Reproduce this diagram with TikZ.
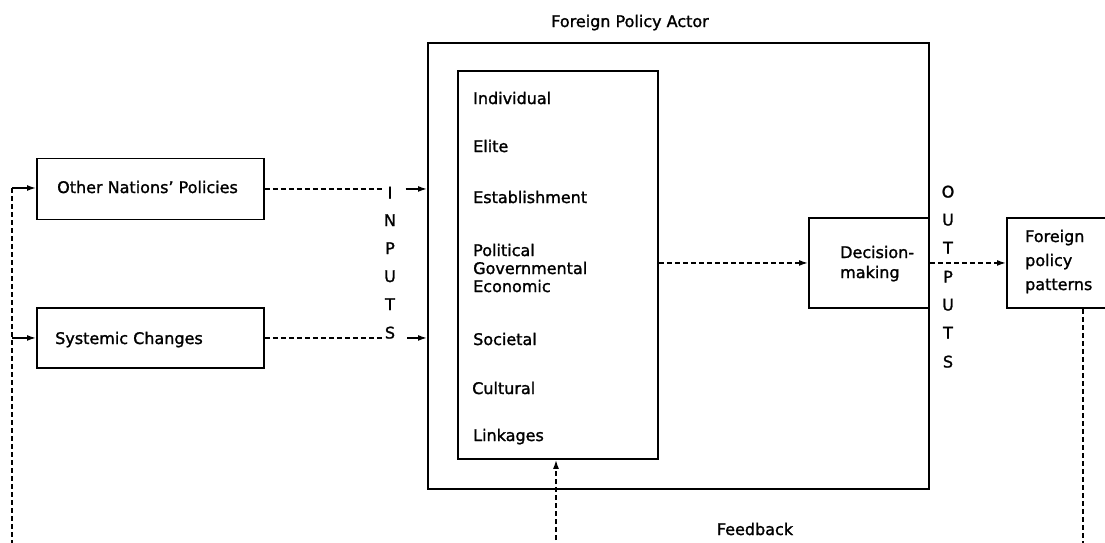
\documentclass[tikz,border=0pt]{standalone}
\usepackage{fontspec}
\setmainfont[FakeBold=1.4]{DejaVu Sans}
\usetikzlibrary{arrows.meta}
\begin{document}
\begin{tikzpicture}[x=1pt,y=-1pt,
  box/.style={draw, line width=1.9pt, inner sep=0pt, anchor=north west},
  lbl/.style={anchor=base west, inner sep=0pt, font=\fontsize{16}{19}\selectfont},
  ctr/.style={anchor=base, inner sep=0pt, font=\fontsize{16}{19}\selectfont},
  dashline/.style={line width=1.5pt, dash pattern=on 5pt off 3pt},
  arr/.style={line width=1.5pt, -{Latex[length=9pt,width=6pt]}}
]
\useasboundingbox (0,0) rectangle (1105,542);
\clip (0,0) rectangle (1105,542);

% boxes
\node[box, minimum width=501pt, minimum height=446pt] (outer) at (427,42) {};
\node[box, minimum width=200pt, minimum height=388pt] (inner) at (457,70) {};
\node[box, minimum width=120pt, minimum height=90pt] (dm) at (808,217) {};
\node[box, minimum width=140pt, minimum height=90pt] (fpp) at (1006,217) {};
\node[box, minimum width=227pt, minimum height=61pt] (onp) at (36,157.5) {};
\node[box, minimum width=227pt, minimum height=60pt] (sc) at (36,307) {};

% texts
\node[ctr] (title) at (630,27) {Foreign Policy Actor};
\node[lbl] (tonp) at (57,193) {Other Nations’ Policies};
\node[lbl] (tsc) at (55,344) {Systemic Changes};
\node[lbl] (t1) at (473,104) {Individual};
\node[lbl] (t2) at (473,152) {Elite};
\node[lbl] (t3) at (473,203) {Establishment};
\node[lbl] (t4) at (473,256) {Political};
\node[lbl] (t5) at (473,274) {Governmental};
\node[lbl] (t6) at (473,292) {Economic};
\node[lbl] (t7) at (473,345) {Societal};
\node[lbl] (t8) at (472,394) {Cultural};
\node[lbl] (t9) at (473,441) {Linkages};
\node[lbl] (tdm1) at (840,258) {Decision-};
\node[lbl] (tdm2) at (840,278) {making};
\node[lbl] (tf1) at (1025,242) {Foreign};
\node[lbl] (tf2) at (1025,266) {policy};
\node[lbl] (tf3) at (1025,290) {patterns};
\node[ctr] (tfb) at (755,535) {Feedback};

% INPUTS
\node[ctr] (in1) at (390,198.5) {I};
\node[ctr] (in2) at (390,226) {N};
\node[ctr] (in3) at (390,254) {P};
\node[ctr] (in4) at (390,282) {U};
\node[ctr] (in5) at (390,310) {T};
\node[ctr] (in6) at (390,338.5) {S};
% OUTPUTS
\node[ctr] (out1) at (948,197.5) {O};
\node[ctr] (out2) at (948,225.5) {U};
\node[ctr] (out3) at (948,253.5) {T};
\node[ctr] (out4) at (948,282.5) {P};
\node[ctr] (out5) at (948,310.5) {U};
\node[ctr] (out6) at (948,338.5) {T};
\node[ctr] (out7) at (948,367.5) {S};

% left feedback line
\coordinate (lt) at (12,188);
\coordinate (lb) at (12,548);
\draw[dashline] (lt) -- (lb);
\draw[arr] (lt) -- (lt -| onp.west);
\draw[arr] (sc.west -| lt) -- (sc.west);

% inputs
\draw[dashline] (onp.east) -- ([xshift=-4pt]onp.east -| in1.west);
\draw[dashline] (sc.east) -- ([xshift=-1pt]sc.east -| in6.west);
\draw[arr] ([xshift=13pt]onp.east -| in1.east) -- (onp.east -| outer.west);
\draw[arr] ([xshift=12pt]sc.east -| in6.east) -- (sc.east -| outer.west);

% internal flow
\draw[dashline, arr] (dm.west -| inner.east) -- (dm.west);
\draw[dashline, arr] (dm.east) -- (dm.east -| fpp.west);

% feedback
\coordinate (fb) at (556,548);
\draw[dashline, arr] (fb) -- (fb |- inner.south);
\coordinate (rb) at (1083,548);
\draw[dashline] (rb |- fpp.south) -- (rb);
\end{tikzpicture}
\end{document}
